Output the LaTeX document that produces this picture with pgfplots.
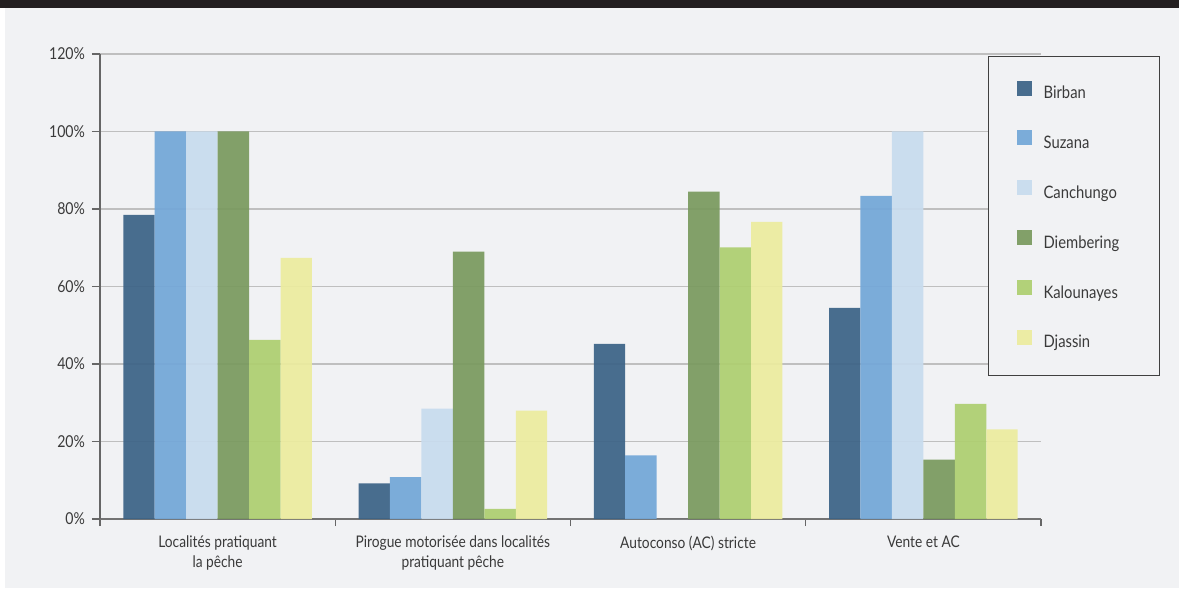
\documentclass[border=0pt]{standalone}
\usepackage{fontspec}
\setmainfont{Lato}[FakeStretch=0.86]
\usepackage{pgfplots}
\pgfplotsset{compat=1.18}
\definecolor{bg}{HTML}{F1F2F4}
\definecolor{band}{HTML}{231F20}
\definecolor{txt}{HTML}{3A3A3A}
\definecolor{cBirban}{HTML}{3C6387}
\definecolor{cSuzana}{HTML}{73A7D8}
\definecolor{cCanchungo}{HTML}{C8DCEE}
\definecolor{cDiembering}{HTML}{7A9A5F}
\definecolor{cKalounayes}{HTML}{AECF70}
\definecolor{cDjassin}{HTML}{ECEC9E}
\begin{document}
\begin{tikzpicture}
% background (picture frame)
\fill[white] (-50pt,-35.5pt) rectangle (539.5pt,259.5pt);
\fill[bg] (-47.5pt,-34.5pt) rectangle (539.5pt,255.5pt);
\fill[band] (-50pt,255.5pt) rectangle (539.5pt,259.5pt);
\begin{axis}[
  at={(0,0)}, anchor=south west,
  scale only axis, width=470.5pt, height=232.5pt,
  ybar=0pt, bar width=0.1337,
  xmin=-0.5, xmax=3.5, ymin=0, ymax=120,
  axis lines=left, axis line style={-},
  x axis line style={draw=black!55, line width=1.1pt},
  y axis line style={draw=black!60, line width=0.6pt},
  xtick={0,1,2,3},
  xticklabels={{Localités pratiquant\\la pêche},{Pirogue motorisée dans localités\\pratiquant pêche},{Autoconso (AC) stricte},{Vente et AC}},
  xticklabel style={align=center, font=\fontsize{8}{9.6}\selectfont, text=txt, yshift=-1pt},
  major x tick style={draw=none},
  minor xtick={-0.5,0.5,1.5,2.5,3.5},
  minor x tick style={draw=black!60, line width=0.6pt},
  minor tick length=3.5pt,
  tick align=outside,
  ytick={0,20,...,120},
  yticklabel={\pgfmathprintnumber{\tick}\%},
  /pgf/number format/assume math mode=true,
  yticklabel style={font=\fontsize{8.2}{9}\selectfont, text=txt},
  major y tick style={draw=black!60, line width=0.6pt},
  major tick length=4pt,
  ymajorgrids, grid style={draw=black!25, line width=0.6pt},
  every axis plot/.append style={draw=none, fill opacity=0.93},
  legend image code/.code={\fill[#1] (0pt,-0.6pt) rectangle (7.5pt,6.9pt); \path (13.5pt,0pt);},
  legend style={
    at={(0.9437,0.9957)}, anchor=north west,
    draw=black!75, line width=0.6pt, fill=bg,
    inner xsep=14pt, inner ysep=12pt,
    font=\fontsize{8.6}{10}\selectfont, text=txt,
    nodes={inner sep=0pt, text height=6.2pt, text depth=1.8pt},
    row sep=14pt,
  },
  legend cell align=left,
]
\addplot[fill=cBirban] coordinates {(0,78.5) (1,9.2) (2,45.2) (3,54.5)};
\addplot[fill=cSuzana] coordinates {(0,100) (1,10.8) (2,16.4) (3,83.4)};
\addplot[fill=cCanchungo] coordinates {(0,100) (1,28.5) (2,0) (3,100)};
\addplot[fill=cDiembering] coordinates {(0,100) (1,69.0) (2,84.5) (3,15.3)};
\addplot[fill=cKalounayes] coordinates {(0,46.2) (1,2.6) (2,70.1) (3,29.7)};
\addplot[fill=cDjassin] coordinates {(0,67.4) (1,28.0) (2,76.7) (3,23.1)};
\legend{\makebox[44pt][l]{Birban},\makebox[44pt][l]{Suzana},\makebox[44pt][l]{Canchungo},\makebox[44pt][l]{Diembering},\makebox[44pt][l]{Kalounayes},\makebox[44pt][l]{Djassin}}
\end{axis}
\end{tikzpicture}
\end{document}
